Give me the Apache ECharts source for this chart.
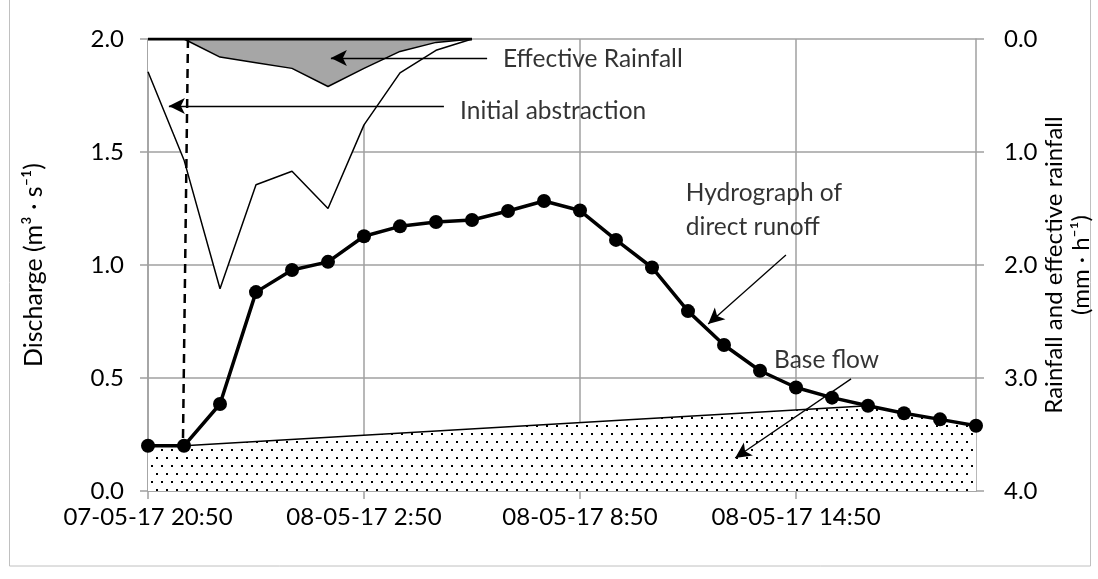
<!DOCTYPE html>
<html><head><meta charset="utf-8">
<script src="https://cdn.jsdelivr.net/npm/echarts@6/dist/echarts.min.js"></script>
<style>html,body{margin:0;padding:0;background:#fff}#c{width:1098px;height:579px}</style>
</head><body><div id="c"></div>
<script>
// ---- data ----
const categories = ['07-05-17 20:50','07-05-17 21:50','07-05-17 22:50','07-05-17 23:50','08-05-17 0:50','08-05-17 1:50',
  '08-05-17 2:50','08-05-17 3:50','08-05-17 4:50','08-05-17 5:50','08-05-17 6:50','08-05-17 7:50',
  '08-05-17 8:50','08-05-17 9:50','08-05-17 10:50','08-05-17 11:50','08-05-17 12:50','08-05-17 13:50',
  '08-05-17 14:50','08-05-17 15:50','08-05-17 16:50','08-05-17 17:50','08-05-17 18:50','08-05-17 19:50'];
const discharge = [0.20,0.20,0.385,0.88,0.978,1.014,1.127,1.171,1.19,1.199,1.239,1.283,1.241,1.111,0.989,0.796,0.646,0.532,0.458,0.413,0.377,0.344,0.317,0.289];
const baseFlow = [0.20,0.20,null,null,null,null,null,null,null,null,null,null,null,null,null,null,null,null,null,null,0.377,0.344,0.317,0.289];
const rainfall = [0.29,1.07,2.21,1.29,1.17,1.50,0.76,0.30,0.10,0.00];
const effectiveRainfall = [0,0,0.16,0.21,0.26,0.42,0.26,0.11,0.03,0];
const rainTop = [0,0,0,0,0,0,0,0,0,0];
const leftTicks = [0,0.5,1,1.5,2];
const rightTicks = [0,1,2,3,4];
// annotations in (hours since start, discharge)
const annoTexts = [
  [9.86, 1.912, 'Effective Rainfall'],
  [8.67, 1.680, 'Initial abstraction'],
  [14.94, 1.243, 'Hydrograph of\ndirect runoff'],
  [17.39, 0.580, 'Base flow']
];
const annoArrows = [
  [[9.42,1.916],[5.08,1.916]],
  [[8.22,1.704],[0.58,1.704]],
  [[17.72,1.044],[15.56,0.739]],
  [[19.53,0.496],[16.31,0.146]]
];
const dashedLine = [[1.11,2.0],[0.97,0.205]];

// dot pattern
const pc = document.createElement('canvas');
pc.width = 10; pc.height = 16;
const pctx = pc.getContext('2d');
pctx.fillStyle = '#fff'; pctx.fillRect(0,0,10,16);
pctx.fillStyle = '#000';
pctx.fillRect(1,1,2,2);
pctx.fillRect(6,9,2,2);

const FONT = 'Lato';
const gridCol = '#a0a0a0';
const chart = echarts.init(document.getElementById('c'));

const markData = annoArrows.map(a => [{coord:a[0]},{coord:a[1]}]);
markData.push([
  {coord:dashedLine[0], symbol:'none', lineStyle:{type:[9,6], width:2.5, color:'#000'}},
  {coord:dashedLine[1], symbol:'none'}
]);

chart.setOption({
  animation:false,
  backgroundColor:'#fff',
  textStyle:{fontFamily:FONT},
  graphic:[{type:'rect', shape:{x:9.5,y:-2,width:1081,height:568}, style:{fill:'none', stroke:'#c0c0c0', lineWidth:1}, silent:true, z:-1}],
  grid:{left:148, right:122, top:39, bottom:88, containLabel:false, outerBoundsMode:'none'},
  xAxis:[{
    type:'category', data:categories, boundaryGap:false,
    axisLine:{lineStyle:{color:gridCol, width:1.5}},
    axisTick:{interval:5, length:8, lineStyle:{color:gridCol, width:1.5}},
    axisLabel:{interval:5, color:'#000', fontSize:24, fontFamily:FONT, margin:14, alignMinLabel:'center', hideOverlap:false},
    splitLine:{show:true, interval:5, lineStyle:{color:gridCol, width:1.5}}
  },{
    type:'value', min:0, max:23, show:false
  }],
  yAxis:[{
    type:'value', min:0, max:2, interval:0.5,
    name:'Discharge (m³ · s⁻¹)', nameLocation:'middle', nameGap:102, nameRotate:90, nameMoveOverlap:false,
    nameTextStyle:{fontSize:25, color:'#000', fontFamily:FONT},
    axisLine:{show:true, lineStyle:{color:gridCol, width:1.5}},
    axisTick:{show:true, length:8, lineStyle:{color:gridCol, width:1.5}},
    axisLabel:{color:'#000', fontSize:24, fontFamily:FONT, margin:24, formatter:v=>v.toFixed(1)},
    splitLine:{show:true, lineStyle:{color:gridCol, width:1.5}}
  },{
    type:'value', min:0, max:4, interval:1, inverse:true, position:'right',
    name:'Rainfall and effective rainfall\n(mm · h⁻¹)', nameLocation:'middle', nameGap:92, nameRotate:90, nameMoveOverlap:false,
    nameTextStyle:{fontSize:24, color:'#000', fontFamily:FONT, lineHeight:27, align:'center', verticalAlign:'middle'},
    axisLine:{show:true, lineStyle:{color:gridCol, width:1.5}},
    axisTick:{show:true, length:8, lineStyle:{color:gridCol, width:1.5}},
    axisLabel:{color:'#000', fontSize:24, fontFamily:FONT, margin:28, formatter:v=>v.toFixed(1)},
    splitLine:{show:false}
  }],
  series:[
    {name:'Base flow', type:'line', xAxisIndex:0, yAxisIndex:0, data:baseFlow, connectNulls:true,
     symbol:'none', lineStyle:{color:'#000', width:1.5},
     areaStyle:{color:{image:pc, repeat:'repeat'}, opacity:1}, z:2},
    {name:'Rainfall', type:'line', xAxisIndex:0, yAxisIndex:1, data:rainfall,
     symbol:'none', lineStyle:{color:'#000', width:1.5},
     areaStyle:{color:'#fff', opacity:1}, z:3},
    {name:'Effective rainfall', type:'line', xAxisIndex:0, yAxisIndex:1, data:effectiveRainfall,
     symbol:'none', lineStyle:{color:'#000', width:1.5},
     areaStyle:{color:'#a6a6a6', opacity:1}, z:4},
    {name:'Rain top', type:'line', xAxisIndex:0, yAxisIndex:1, data:rainTop,
     symbol:'none', lineStyle:{color:'#000', width:3}, z:5},
    {name:'Hydrograph', type:'line', xAxisIndex:0, yAxisIndex:0, data:discharge,
     symbol:'circle', symbolSize:14, itemStyle:{color:'#000'}, lineStyle:{color:'#000', width:3.5}, z:6},
    {name:'Annotations', type:'scatter', xAxisIndex:1, yAxisIndex:0, data:annoTexts, symbolSize:0,
     label:{show:true, position:'inside', align:'left', verticalAlign:'middle', color:'#000',
       fontSize:24.5, fontFamily:FONT, lineHeight:34, formatter:p=>p.value[2]},
     markLine:{silent:true, symbol:['none','arrow'], symbolSize:[12,16], precision:4,
       lineStyle:{color:'#000', width:1.3, type:'solid'}, label:{show:false}, data:markData},
     z:7}
  ]
});
</script></body></html>
